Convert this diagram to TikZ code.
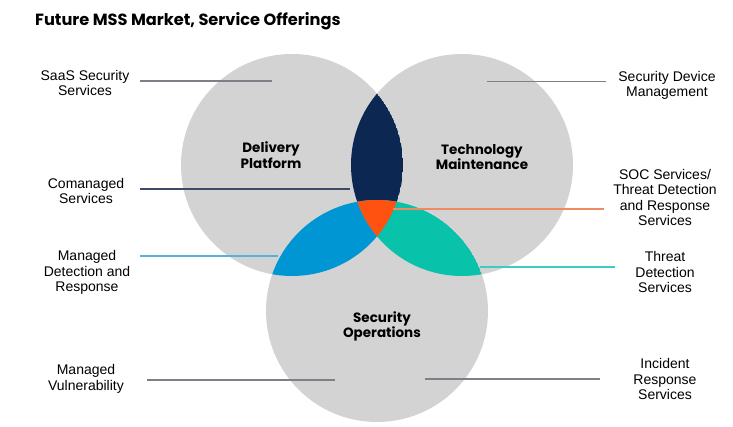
\documentclass[tikz,border=0pt]{standalone}
\usepackage{fontspec}
\setmainfont{Liberation Sans}
\newfontfamily\headfont{Poppins}
\usetikzlibrary{positioning}

\definecolor{ringgray}{HTML}{D3D3D3}
\definecolor{navy}{HTML}{0B2752}
\definecolor{flame}{HTML}{FF5210}
\definecolor{skyblue}{HTML}{0096D3}
\definecolor{teal}{HTML}{08C2AA}
\definecolor{linegray}{HTML}{7C8087}
\definecolor{navyline}{HTML}{3A4B6A}
\definecolor{skyline}{HTML}{5AB0D8}
\definecolor{flameline}{HTML}{F08A62}
\definecolor{tealline}{HTML}{3FCBC2}

\tikzset{
  offer/.style={align=center, inner sep=0pt, font=\fontsize{14}{15.5}\selectfont},
  area/.style={align=center, inner sep=0pt, font=\headfont\bfseries\fontsize{13.5}{15.5}\selectfont},
  link/.style={line width=1.1pt, linegray}
}

\begin{document}
\begin{tikzpicture}[x=1pt, y=-1pt]
\useasboundingbox (0,0) rectangle (733,426);
% the three service areas
\coordinate (dpc) at (292,165);
\coordinate (tmc) at (462,165);
\coordinate (soc) at (377,311);
\def\rad{111}
\fill[ringgray] (dpc) circle (\rad) (tmc) circle (\rad) (soc) circle (\rad);
\begin{scope}
  \clip (dpc) circle (\rad);
  \clip (tmc) circle (\rad);
  \fill[navy] (dpc) circle (\rad);
\end{scope}
\begin{scope}
  \clip (dpc) circle (\rad);
  \clip (soc) circle (\rad);
  \fill[skyblue] (soc) circle (\rad);
\end{scope}
\begin{scope}
  \clip (tmc) circle (\rad);
  \clip (soc) circle (\rad);
  \fill[teal] (soc) circle (\rad);
\end{scope}
\begin{scope}
  \clip (dpc) circle (\rad);
  \clip (tmc) circle (\rad);
  \clip (soc) circle (\rad);
  \fill[flame] (soc) circle (\rad);
\end{scope}

\node[anchor=west, inner sep=0pt, font=\headfont\bfseries\fontsize{16.2}{19}\selectfont] (title) at (35,21) {Future MSS Market, Service Offerings};

\node[area] (dp) at (271,155) {Delivery\\Platform};
\node[area] (tm) at (482,157) {Technology\\Maintenance};
\node[area] (so) at (382,326.5) {Security\\Operations};

% offerings, left side
\node[offer] (saas) at (85,83) {SaaS Security\\Services};
\node[offer] (coman) at (86,191) {Comanaged\\Services};
\node[offer] (mdr) at (87,272.5) {Managed\\Detection and\\Response};
\node[offer] (mvul) at (86,379) {Managed\\Vulnerability};
% offerings, right side
\node[offer] (sdm) at (667,85.5) {Security Device\\Management};
\node[offer] (socs) at (665,197.5) {SOC Services/\\Threat Detection\\and Response\\Services};
\node[offer] (tds) at (665,272) {Threat\\Detection\\Services};
\node[offer] (irs) at (665,379) {Incident\\Response\\Services};

% leader lines
\coordinate (saas-a) at (140,81);    \coordinate (saas-b) at (272,81);
\coordinate (coman-a) at (140,189);  \coordinate (coman-b) at (350,189);
\coordinate (mdr-a) at (140,256);    \coordinate (mdr-b) at (278,256);
\coordinate (mvul-a) at (147,380);   \coordinate (mvul-b) at (335,380);
\coordinate (sdm-a) at (606,81.5);   \coordinate (sdm-b) at (487,81.5);
\coordinate (socs-a) at (604,209);   \coordinate (socs-b) at (393,209);
\coordinate (tds-a) at (615,267);    \coordinate (tds-b) at (480,267);
\coordinate (irs-a) at (600,379);    \coordinate (irs-b) at (425,379);

\draw[link] (saas-a) -- (saas-b);
\draw[link, navyline] (coman-a) -- (coman-b);
\draw[link, skyline] (mdr-a) -- (mdr-b);
\draw[link] (mvul-a) -- (mvul-b);
\draw[link] (sdm-a) -- (sdm-b);
\draw[link, flameline] (socs-a) -- (socs-b);
\draw[link, tealline] (tds-a) -- (tds-b);
\draw[link] (irs-a) -- (irs-b);
\end{tikzpicture}
\end{document}
